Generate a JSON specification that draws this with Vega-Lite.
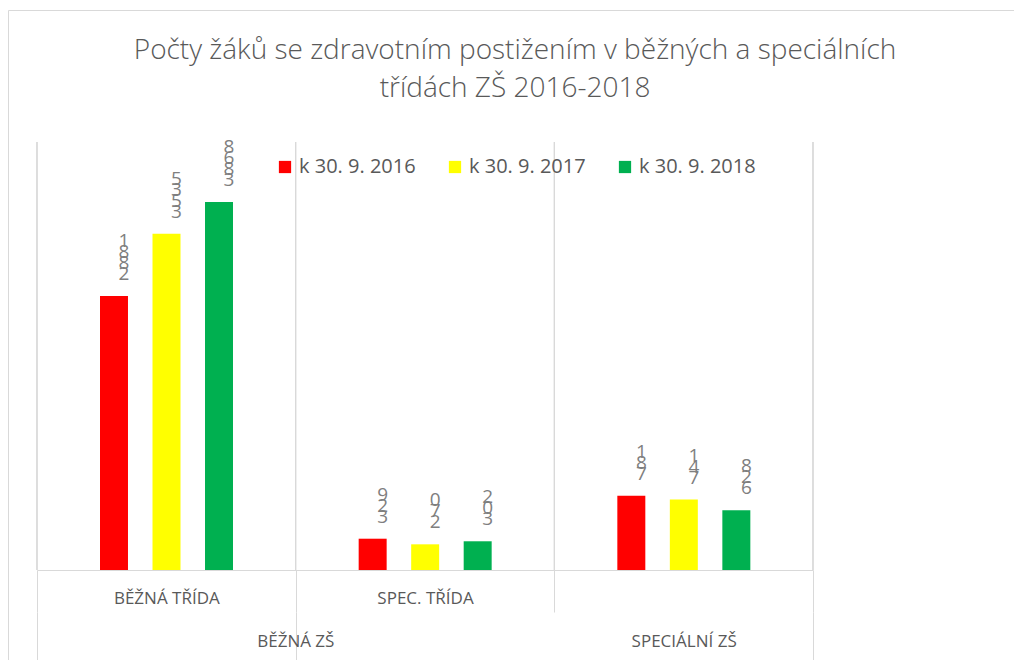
{
  "$schema": "https://vega.github.io/schema/vega-lite/v6.json",
  "width": 1014,
  "height": 660,
  "autosize": {"type": "none"},
  "padding": {"left": 8, "top": 10, "right": 0, "bottom": 0},
  "background": "white",
  "config": {
    "view": {"stroke": "#d9d9d9", "strokeWidth": 1},
    "font": "Open Sans",
    "text": {"lineBreak": "\n"}
  },
  "title": {
    "text": ["Počty žáků se zdravotním postižením v běžných a speciálních", "třídách ZŠ 2016-2018"],
    "font": "Open Sans",
    "fontSize": 28,
    "fontWeight": 300,
    "color": "#595959",
    "lineHeight": 38,
    "baseline": "alphabetic",
    "anchor": "middle",
    "frame": "group",
    "offset": 0,
    "dy": 115
  },
  "data": {
    "values": [
      {"kat": "BĚŽNÁ TŘÍDA", "rok": "k 30. 9. 2016", "value": 2881, "label": "1\n8\n8\n2"},
      {"kat": "BĚŽNÁ TŘÍDA", "rok": "k 30. 9. 2017", "value": 3535, "label": "5\n3\n5\n3"},
      {"kat": "BĚŽNÁ TŘÍDA", "rok": "k 30. 9. 2018", "value": 3868, "label": "8\n6\n8\n3"},
      {"kat": "SPEC. TŘÍDA", "rok": "k 30. 9. 2016", "value": 329, "label": "9\n2\n3"},
      {"kat": "SPEC. TŘÍDA", "rok": "k 30. 9. 2017", "value": 270, "label": "0\n7\n2"},
      {"kat": "SPEC. TŘÍDA", "rok": "k 30. 9. 2018", "value": 302, "label": "2\n0\n3"},
      {"kat": "SPECIÁLNÍ ZŠ", "rok": "k 30. 9. 2016", "value": 781, "label": "1\n8\n7"},
      {"kat": "SPECIÁLNÍ ZŠ", "rok": "k 30. 9. 2017", "value": 741, "label": "1\n4\n7"},
      {"kat": "SPECIÁLNÍ ZŠ", "rok": "k 30. 9. 2018", "value": 628, "label": "8\n2\n6"}
    ]
  },
  "layer": [
    {
      "mark": {"type": "rule", "color": "#d9d9d9", "strokeWidth": 1},
      "encoding": {
        "x": {"field": "kat", "type": "nominal", "bandPosition": 0, "axis": null,
              "scale": {"domain": ["BĚŽNÁ TŘÍDA", "SPEC. TŘÍDA", "SPECIÁLNÍ ZŠ"], "range": [29, 805], "paddingInner": 0, "paddingOuter": 0}},
        "y": {"datum": 4500, "type": "quantitative", "axis": null},
        "y2": {"datum": 0}
      }
    },
    {
      "transform": [{"filter": "datum.kat === 'SPECIÁLNÍ ZŠ'"}],
      "mark": {"type": "rule", "color": "#d9d9d9", "strokeWidth": 1},
      "encoding": {
        "x": {"field": "kat", "type": "nominal", "bandPosition": 1, "axis": null},
        "y": {"datum": 4500, "type": "quantitative", "axis": null},
        "y2": {"datum": 0}
      }
    },
    {
      "mark": {"type": "bar"},
      "encoding": {
        "x": {
          "field": "kat", "type": "nominal",
          "scale": {"domain": ["BĚŽNÁ TŘÍDA", "SPEC. TŘÍDA", "SPECIÁLNÍ ZŠ"], "range": [29, 805], "paddingInner": 0, "paddingOuter": 0},
          "axis": {
            "title": null, "orient": "bottom", "offset": -100, "tickBand": "extent",
            "domain": true, "domainColor": "#d9d9d9", "domainWidth": 1,
            "ticks": true, "tickColor": "#d9d9d9", "tickSize": 42, "tickWidth": 1,
            "grid": false,
            "labelExpr": "datum.value === 'SPECIÁLNÍ ZŠ' ? '' : datum.value",
            "labelFont": "Open Sans", "labelFontSize": 17, "labelColor": "#595959",
            "labelBaseline": "middle", "labelPadding": -14, "labelAngle": 0,
            "labelOverlap": false, "labelFlush": false
          }
        },
        "xOffset": {
          "field": "rok", "type": "nominal",
          "scale": {"domain": ["k 30. 9. 2016", "k 30. 9. 2017", "k 30. 9. 2018"], "range": [63, 196], "paddingInner": 0.467, "paddingOuter": 0}
        },
        "y": {"field": "value", "type": "quantitative", "scale": {"domain": [0, 4500], "range": [560, 132], "nice": false}, "axis": null},
        "color": {
          "field": "rok", "type": "nominal",
          "scale": {"domain": ["k 30. 9. 2016", "k 30. 9. 2017", "k 30. 9. 2018"], "range": ["#FF0000", "#FFFF00", "#00B050"]},
          "legend": {
            "title": null, "orient": "none", "legendX": 267, "legendY": 147,
            "direction": "horizontal", "symbolType": "square", "symbolSize": 150,
            "symbolStrokeWidth": 0, "labelFont": "Open Sans", "labelFontSize": 20,
            "labelColor": "#595959", "columnPadding": 29, "labelOffset": 4
          }
        }
      }
    },
    {
      "transform": [{"filter": "datum.kat === 'BĚŽNÁ TŘÍDA'"}],
      "mark": {"type": "text", "baseline": "bottom", "align": "center", "dx": 10, "dy": -45, "fontSize": 19, "lineHeight": 11, "color": "#7f7f7f", "font": "Open Sans"},
      "encoding": {
        "x": {
          "field": "kat", "type": "nominal",
          "axis": {
            "title": null, "orient": "bottom", "offset": -58, "tickBand": "extent",
            "domain": false,
            "ticks": true, "tickColor": "#d9d9d9", "tickSize": 48, "tickWidth": 1,
            "tickOpacity": {"condition": {"test": "datum.value === 'SPEC. TŘÍDA'", "value": 0}, "value": 1},
            "grid": false,
            "labelExpr": "datum.value === 'BĚŽNÁ TŘÍDA' ? 'BĚŽNÁ  ZŠ' : (datum.value === 'SPECIÁLNÍ ZŠ' ? 'SPECIÁLNÍ ZŠ' : '')",
            "labelOffset": {"condition": {"test": "datum.value === 'BĚŽNÁ TŘÍDA'", "value": 129}, "value": 0},
            "labelFont": "Open Sans", "labelFontSize": 17, "labelColor": "#595959",
            "labelBaseline": "middle", "labelPadding": -19, "labelAngle": 0,
            "labelOverlap": false, "labelFlush": false
          }
        },
        "xOffset": {"field": "rok", "type": "nominal"},
        "y": {"field": "value", "type": "quantitative", "axis": null},
        "text": {"field": "label"}
      }
    },
    {
      "transform": [{"filter": "datum.kat !== 'BĚŽNÁ TŘÍDA'"}],
      "mark": {"type": "text", "baseline": "bottom", "align": "center", "dx": 10, "dy": -34, "fontSize": 19, "lineHeight": 11, "color": "#7f7f7f", "font": "Open Sans"},
      "encoding": {
        "x": {"field": "kat", "type": "nominal", "axis": null},
        "xOffset": {"field": "rok", "type": "nominal"},
        "y": {"field": "value", "type": "quantitative", "axis": null},
        "text": {"field": "label"}
      }
    }
  ],
  "resolve": {"axis": {"x": "independent"}}
}
